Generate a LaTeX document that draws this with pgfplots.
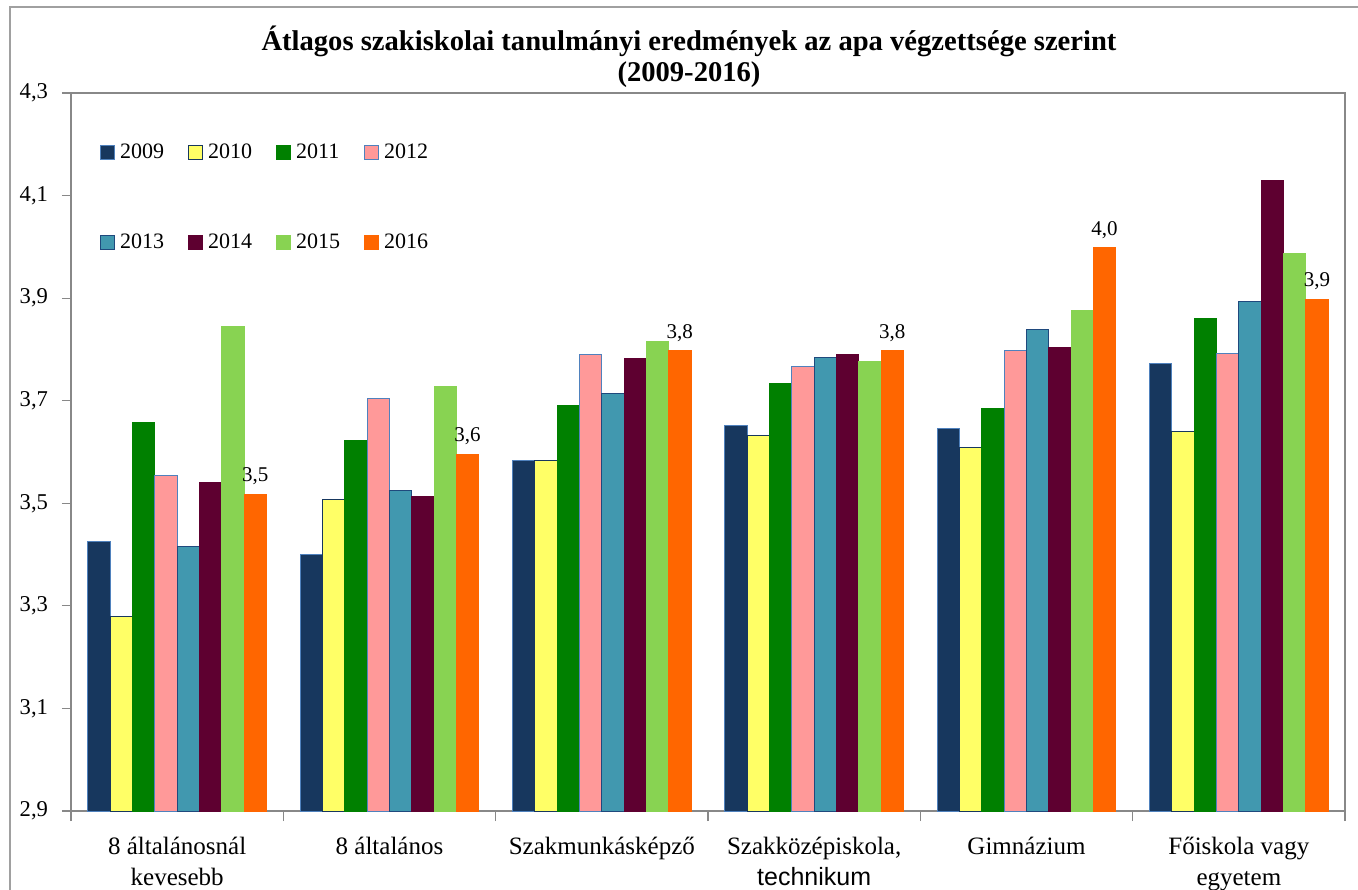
\documentclass[border=0pt]{standalone}
\usepackage{pgfplots}
\pgfplotsset{compat=1.18}
\usepackage{pgfplotstable}
\usepackage{fontspec}
\setmainfont{Liberation Serif}
\newfontfamily\arial{Liberation Sans}
\definecolor{c09}{HTML}{17375E}
\definecolor{c10}{HTML}{FFFF66}
\definecolor{c11}{HTML}{008000}
\definecolor{c12}{HTML}{FF9999}
\definecolor{c13}{HTML}{4198AF}
\definecolor{c14}{HTML}{5E0030}
\definecolor{c15}{HTML}{88D352}
\definecolor{c16}{HTML}{FF6600}
\definecolor{e1}{HTML}{4F81BD}
\definecolor{e2}{HTML}{1F497D}
\definecolor{axgray}{HTML}{888888}
\pgfplotstableread{
x  a09   a10   a11   a12   a13   a14   a15   a16
0  3.425 3.280 3.657 3.555 3.415 3.540 3.844 3.518
1  3.401 3.508 3.623 3.705 3.524 3.514 3.727 3.596
2  3.583 3.583 3.690 3.791 3.715 3.783 3.816 3.797
3  3.651 3.633 3.733 3.766 3.785 3.791 3.776 3.797
4  3.645 3.608 3.684 3.797 3.838 3.803 3.875 3.998
5  3.772 3.639 3.861 3.793 3.894 4.130 3.988 3.898
}\data
\pgfplotsset{sq/.style={legend image code/.code={\draw[##1,line width=0.5bp] (0bp,-3.5bp) rectangle (7bp,3.5bp);}}}
\begin{document}
\begin{tikzpicture}
\useasboundingbox (-35.5bp,-39.5bp) rectangle (643.5bp,405.5bp);
\draw[axgray!80, line width=0.6bp] (-30.5bp,-39.5bp) -- (-30.5bp,402bp) -- (643.5bp,402bp);
\node[align=center, font={\fontsize{14.3bp}{15.5bp}\selectfont\bfseries}] at (309bp,377bp)
  {Átlagos szakiskolai tanulmányi eredmények az apa végzettsége szerint\\(2009-2016)};
\begin{axis}[
  at={(0,0)}, anchor=south west,
  scale only axis, width=637bp, height=359bp,
  ybar=0pt, bar width=0.105,
  xmin=-0.5, xmax=5.5, ymin=2.9, ymax=4.3,
  ytick={2.9,3.1,...,4.31},
  xtick={0,...,5},
  xticklabels={{8 általánosnál\\kevesebb},{8 általános},{Szakmunkásképző},{Szakközépiskola,\\{\arial technikum}},{Gimnázium},{Főiskola vagy\\egyetem}},
  minor xtick={-0.5,0.5,...,5.6},
  major x tick style={draw=none},
  tick align=outside, major tick length=4.5bp, minor tick length=5bp,
  xtick pos=bottom, ytick pos=left,
  axis line style={axgray, line width=0.6bp},
  tick style={axgray, line width=0.6bp},
  /pgf/number format/assume math mode=true,
  yticklabel style={/pgf/number format/.cd, fixed, fixed zerofill, precision=1, use comma, /tikz/.cd, font={\fontsize{11.3bp}{13bp}\selectfont}, xshift=-3.5bp},
  xticklabel style={align=center, font={\fontsize{12.5bp}{15.5bp}\selectfont}, yshift=-5bp},
  legend columns=4,
  legend cell align=left,
  legend style={at={(0.0225,0.934)}, anchor=north west, draw=none, fill=none, inner sep=0pt,
    font={\fontsize{11bp}{13bp}\selectfont},
    nodes={inner sep=1.5bp},
    column sep=0pt, row sep=33bp,
    /tikz/every odd column/.append style={column sep=1bp},
    /tikz/every even column/.append style={column sep=10.5bp}},
  sq,
]
\addplot[ybar, sq, fill=c09, draw=e1, line width=0.5bp] table[x=x,y=a09]{\data};
\addplot[ybar, sq, fill=c10, draw=c09, line width=0.5bp] table[x=x,y=a10]{\data};
\addplot[ybar, sq, fill=c11, draw=c11, line width=0.5bp] table[x=x,y=a11]{\data};
\addplot[ybar, sq, fill=c12, draw=e1, line width=0.5bp] table[x=x,y=a12]{\data};
\addplot[ybar, sq, fill=c13, draw=e2, line width=0.5bp] table[x=x,y=a13]{\data};
\addplot[ybar, sq, fill=c14, draw=c14, line width=0.5bp] table[x=x,y=a14]{\data};
\addplot[ybar, sq, fill=c15, draw=c15, line width=0.5bp] table[x=x,y=a15]{\data};
\addplot[ybar, sq, fill=c16, draw=c16, line width=0.5bp,
  nodes near coords, nodes near coords style={/pgf/number format/.cd, fixed, fixed zerofill, precision=1, use comma, /tikz/.cd, font={\fontsize{10.5bp}{12bp}\selectfont}, text=black, anchor=south, yshift=1bp}] table[x=x,y=a16]{\data};
\legend{2009,2010,2011,2012,2013,2014,2015,2016}
\end{axis}
\end{tikzpicture}
\end{document}
